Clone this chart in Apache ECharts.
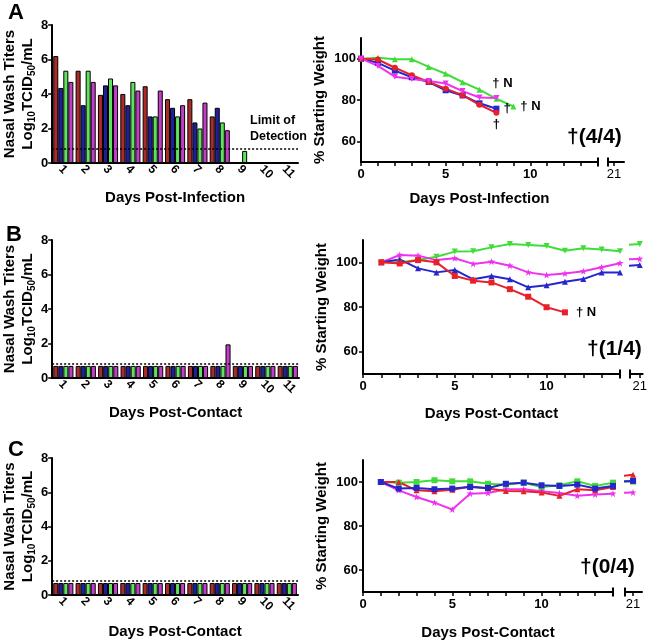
<!DOCTYPE html>
<html style="height:100%;">
<head>
    <meta charset="utf-8">
    <title>Nasal wash titers and weight loss</title>
    <script src="https://cdn.jsdelivr.net/npm/echarts@6.0.0/dist/echarts.min.js"></script>
</head>
<body style="height: 100%; margin: 0;">
    <div id="main" style="width: 650px; height: 641px;"></div>
    <script type="text/javascript">
    // ---- data ----
    var dayCats = ['1', '2', '3', '4', '5', '6', '7', '8', '9', '10', '11'];
    var titerTicks = [0, 2, 4, 6, 8];
    var limitOfDetection = 0.85;

    // panel A, nasal wash titers (log10 TCID50/mL), days post-infection
    var titerA_red = [6.2, 5.35, 3.95, 4.0, 4.45, 3.7, 3.7, 2.7, null, null, null];
    var titerA_blue = [4.35, 3.35, 4.5, 3.35, 2.7, 3.2, 2.35, 3.2, null, null, null];
    var titerA_green = [5.35, 5.35, 4.9, 4.7, 2.7, 2.7, 2.0, 2.35, 0.7, null, null];
    var titerA_magenta = [4.7, 4.7, 4.5, 4.2, 4.2, 3.35, 3.5, 1.9, null, null, null];
    // panel B, contacts
    var titerB_red = [0.7, 0.7, 0.7, 0.7, 0.7, 0.7, 0.7, 0.7, 0.7, 0.7, 0.7];
    var titerB_blue = [0.7, 0.7, 0.7, 0.7, 0.7, 0.7, 0.7, 0.7, 0.7, 0.7, 0.7];
    var titerB_green = [0.7, 0.7, 0.7, 0.7, 0.7, 0.7, 0.7, 0.7, 0.7, 0.7, 0.7];
    var titerB_magenta = [0.7, 0.7, 0.7, 0.7, 0.7, 0.7, 0.7, 1.95, 0.7, 0.7, 0.7];
    // panel C, contacts
    var titerC_red = [0.7, 0.7, 0.7, 0.7, 0.7, 0.7, 0.7, 0.7, 0.7, 0.7, 0.7];
    var titerC_blue = [0.7, 0.7, 0.7, 0.7, 0.7, 0.7, 0.7, 0.7, 0.7, 0.7, 0.7];
    var titerC_green = [0.7, 0.7, 0.7, 0.7, 0.7, 0.7, 0.7, 0.7, 0.7, 0.7, 0.7];
    var titerC_magenta = [0.7, 0.7, 0.7, 0.7, 0.7, 0.7, 0.7, 0.7, 0.7, 0.7, 0.7];

    // weights (% starting weight)
    var weightTicks = [60, 80, 100];
    var daysA = [0, 1, 2, 3, 4, 5, 6, 7, 8, 9];
    var wA_red = [100, 99.6, 95.6, 92, 88.7, 85.5, 82.3, 77.7, 73.8];
    var wA_blue = [100, 98, 94.2, 91, 88.7, 84.7, 82.2, 78.4, 75.8];
    var wA_green = [100, 100.5, 99.7, 99.7, 96, 92.7, 88.6, 85, 80.6, 76.9];
    var wA_magenta = [100, 96.5, 91.3, 90.2, 89.2, 88, 84.3, 81.2, 81];

    var daysBC = [1, 2, 3, 4, 5, 6, 7, 8, 9, 10, 11, 12, 13, 14, 21];
    var wB_red = [100, 99.5, 101, 100, 93.9, 91.8, 91, 88, 84.6, 79.9, 77.6];
    var wB_green = [100, 100, 101, 102.5, 104.8, 105, 106.7, 108.2, 107.8, 107.3, 105.2, 106.3, 105.8, 105, 108.2];
    var wB_magenta = [100, 103.3, 103, 101, 101.8, 99.3, 100.3, 98.5, 95.5, 94.3, 95, 96, 97.8, 99.6, 101.5];
    var wB_blue = [100, 101.3, 97.3, 95.5, 96.6, 92.4, 93.9, 92.4, 88.8, 89.7, 91.3, 92.5, 95.4, 95.5, 98.8];

    var wC_green = [100, 99.7, 100, 100.8, 100.3, 100.3, 99.2, 98.8, 99.7, 97.7, 98.5, 100.3, 98.2, 99.7, 100.2];
    var wC_blue = [100, 97, 97.3, 96.7, 97, 97.7, 97.3, 99.2, 99.7, 98.5, 98.2, 98.8, 97, 98.2, 100.5];
    var wC_red = [100, 100, 96.2, 95.8, 96.5, 98, 97, 95.9, 95.8, 95.2, 93.7, 96.7, 96.2, 97.7, 103.3];
    var wC_magenta = [100, 96.2, 93.2, 90.6, 87.5, 94.7, 95, 96.7, 96.7, 95.8, 95, 93.7, 94.3, 94.7, 95.2];

    // ---- styles ----
    var FONT = 'Liberation Sans';
    var barColors = ['#ad2a2a', '#1f1f9e', '#5fe35f', '#c43dc9'];
    var RED = '#e8202a', BLUE = '#2626cc', GREEN = '#3fdc3a', MAGENTA = '#ee33ee';
    var starPath = 'path://M0,-5L1.2,-1.6L5,-1.6L2,0.8L3,5L0,2.4L-3,5L-2,0.8L-5,-1.6L-1.2,-1.6Z';

    var myChart = echarts.init(document.getElementById('main'));

    var grids = [
        {left: 50, top: 25, width: 248, height: 138},   // 0 bar A
        {left: 361, top: 38, width: 237, height: 124},  // 1 weight A
        {left: 608, top: 38, width: 16, height: 124},   // 2 weight A day 21
        {left: 50, top: 240, width: 249, height: 138},  // 3 bar B
        {left: 363, top: 240, width: 257, height: 134}, // 4 weight B
        {left: 630, top: 240, width: 13, height: 134},  // 5 weight B day 21
        {left: 50, top: 458, width: 248, height: 137},  // 6 bar C
        {left: 363, top: 460, width: 250, height: 132}, // 7 weight C
        {left: 625, top: 460, width: 17, height: 132}   // 8 weight C day 21
    ];

    var boldLabel = {fontFamily: FONT, fontWeight: 'bold', color: '#000'};
    var nameStyle = {fontFamily: FONT, fontWeight: 'bold', fontSize: 15, color: '#000'};
    var axisLineStyle = {color: '#000', width: 2};

    function barX(gridIndex, name, gap) {
        return {
            type: 'category', gridIndex: gridIndex, data: dayCats,
            name: name, nameLocation: 'middle', nameGap: gap, nameTextStyle: nameStyle,
            axisLine: {lineStyle: axisLineStyle},
            axisTick: {alignWithLabel: true, length: 4, lineStyle: {width: 1.5, color: '#000'}},
            axisLabel: Object.assign({rotate: -45, fontSize: 12, margin: 7, interval: 0, padding: [0, 0, 0, -4]}, boldLabel)
        };
    }
    function barY(gridIndex) {
        return {
            type: 'value', gridIndex: gridIndex, min: 0, max: 8, interval: 2,
            name: 'Nasal Wash Titers\nLog{sub|10}TCID{sub|50}/mL',
            nameLocation: 'middle', nameRotate: 90, nameGap: 14,
            nameTextStyle: Object.assign({lineHeight: 18, rich: {
                sub: {fontFamily: FONT, fontWeight: 'bold', fontSize: 10, verticalAlign: 'bottom', lineHeight: 12}
            }}, nameStyle),
            splitLine: {show: false},
            axisLine: {show: true, lineStyle: axisLineStyle},
            axisTick: {show: true, length: 4, lineStyle: {width: 1.5, color: '#000'}},
            axisLabel: Object.assign({fontSize: 13, margin: 4, customValues: titerTicks}, boldLabel)
        };
    }
    function weightX(gridIndex, name, gap) {
        return {
            type: 'value', gridIndex: gridIndex, min: 0, max: 14, interval: 1,
            name: name, nameLocation: 'middle', nameGap: gap, nameTextStyle: nameStyle,
            splitLine: {show: false},
            axisLine: {onZero: false, lineStyle: axisLineStyle, symbol: ['none', 'rect'], symbolSize: [9, 2]},
            axisTick: {length: 4, lineStyle: {width: 1.5, color: '#000'}},
            axisLabel: Object.assign({fontSize: 13, margin: 6, showMaxLabel: false,
                formatter: function (v) { return v % 5 === 0 ? v : ''; }}, boldLabel)
        };
    }
    function weightX21(gridIndex, min, max) {
        return {
            type: 'value', gridIndex: gridIndex, min: min, max: max,
            splitLine: {show: false},
            axisLine: {onZero: false, lineStyle: axisLineStyle, symbol: ['rect', 'none'], symbolSize: [9, 2]},
            axisTick: {length: 4, customValues: [21], lineStyle: {width: 1.5, color: '#000'}},
            axisLabel: {fontFamily: FONT, fontSize: 13, color: '#000', margin: 6, customValues: [21]}
        };
    }
    function weightY(gridIndex) {
        return {
            type: 'value', gridIndex: gridIndex, min: 50, max: 110,
            name: '% Starting Weight', nameLocation: 'middle', nameRotate: 90, nameGap: 34,
            nameTextStyle: nameStyle,
            splitLine: {show: false},
            axisLine: {show: true, onZero: false, lineStyle: axisLineStyle},
            axisTick: {show: true, length: 4, customValues: weightTicks, lineStyle: {width: 1.5, color: '#000'}},
            axisLabel: Object.assign({fontSize: 13, margin: 5, customValues: weightTicks}, boldLabel)
        };
    }
    function hiddenY(gridIndex) {
        return {type: 'value', gridIndex: gridIndex, min: 50, max: 110, show: false, splitLine: {show: false}};
    }

    function barSeries(idx, sets) {
        return sets.map(function (vals, k) {
            var s = {
                type: 'bar', xAxisIndex: idx, yAxisIndex: idx, data: vals,
                barGap: '0%', barCategoryGap: '10%',
                itemStyle: {color: barColors[k], borderColor: '#000', borderWidth: 1},
                emphasis: {disabled: true}
            };
            if (k === 3) {
                s.markLine = {
                    silent: true, symbol: 'none', z: 10,
                    lineStyle: {type: [2, 2], color: '#000', width: 1.5},
                    label: {show: false},
                    data: [{yAxis: limitOfDetection}]
                };
            }
            return s;
        });
    }

    // one weight curve drawn twice: on the 0-14 grid and on the day-21 grid (clipped)
    function weightSeries(idx, days, vals, color, symbol, endLabel) {
        var pts = vals.map(function (v, i) { return [days[i], v]; });
        if (endLabel) {
            var last = pts.length - 1;
            pts[last] = {value: pts[last], label: Object.assign({show: true, fontSize: 13}, boldLabel, endLabel)};
        }
        var base = {
            type: 'line', data: pts, symbol: symbol, symbolSize: symbol === starPath ? 7 : 6,
            lineStyle: {color: color, width: 2}, itemStyle: {color: color},
            label: {show: false}, clip: true, emphasis: {disabled: true}
        };
        var a = Object.assign({}, base, {xAxisIndex: idx, yAxisIndex: idx});
        var b = Object.assign({}, base, {xAxisIndex: idx + 1, yAxisIndex: idx + 1,
            data: vals.map(function (v, i) { return [days[i], v]; })});
        return [a, b];
    }

    var series = [].concat(
        barSeries(0, [titerA_red, titerA_blue, titerA_green, titerA_magenta]),
        barSeries(3, [titerB_red, titerB_blue, titerB_green, titerB_magenta]),
        barSeries(6, [titerC_red, titerC_blue, titerC_green, titerC_magenta]),
        weightSeries(1, daysA, wA_green, GREEN, 'triangle', {position: 'right', distance: 4, formatter: '\u2020 N'}),
        weightSeries(1, daysA, wA_blue, BLUE, 'rect', {position: 'right', distance: 4, formatter: '\u2020'}),
        weightSeries(1, daysA, wA_red, RED, 'circle', {position: 'bottom', distance: 2, formatter: '\u2020'}),
        weightSeries(1, daysA, wA_magenta, MAGENTA, 'path://M-5,-4L5,-4L0,5Z', {position: 'top', distance: 5, offset: [6, 0], formatter: '\u2020 N'}),
        weightSeries(4, daysBC, wB_green, GREEN, 'path://M-5,-4L5,-4L0,5Z', null),
        weightSeries(4, daysBC, wB_magenta, MAGENTA, starPath, null),
        weightSeries(4, daysBC, wB_blue, BLUE, 'triangle', null),
        weightSeries(4, daysBC, wB_red, RED, 'rect', {position: 'right', distance: 8, formatter: '\u2020 N'}),
        weightSeries(7, daysBC, wC_green, GREEN, 'rect', null),
        weightSeries(7, daysBC, wC_magenta, MAGENTA, starPath, null),
        weightSeries(7, daysBC, wC_red, RED, 'triangle', null),
        weightSeries(7, daysBC, wC_blue, BLUE, 'rect', null)
    );

    function txt(left, top, text, size) {
        return {type: 'text', left: left, top: top, silent: true,
            style: {text: text, fontFamily: FONT, fontWeight: 'bold', fontSize: size, fill: '#000', lineHeight: 16}};
    }

    myChart.setOption({
        animation: false,
        backgroundColor: '#fff',
        grid: grids,
        xAxis: [
            barX(0, 'Days Post-Infection', 27),
            weightX(1, 'Days Post-Infection', 29),
            weightX21(2, 20.65, 21.6),
            barX(3, 'Days Post-Contact', 27),
            weightX(4, 'Days Post-Contact', 32),
            weightX21(5, 20.45, 21.16),
            barX(6, 'Days Post-Contact', 29),
            weightX(7, 'Days Post-Contact', 33),
            weightX21(8, 20.55, 21.5)
        ],
        yAxis: [
            barY(0), weightY(1), hiddenY(2),
            barY(3), weightY(4), hiddenY(5),
            barY(6), weightY(7), hiddenY(8)
        ],
        graphic: [
            txt(8, 2, 'A', 22),
            txt(6, 224, 'B', 22),
            txt(8, 439, 'C', 22),
            txt(250, 113, 'Limit of\nDetection', 12.5),
            txt(567, 127, '\u2020(4/4)', 21),
            txt(587, 339, '\u2020(1/4)', 21),
            txt(580, 557, '\u2020(0/4)', 21)
        ],
        series: series
    });
    </script>
</body>
</html>
